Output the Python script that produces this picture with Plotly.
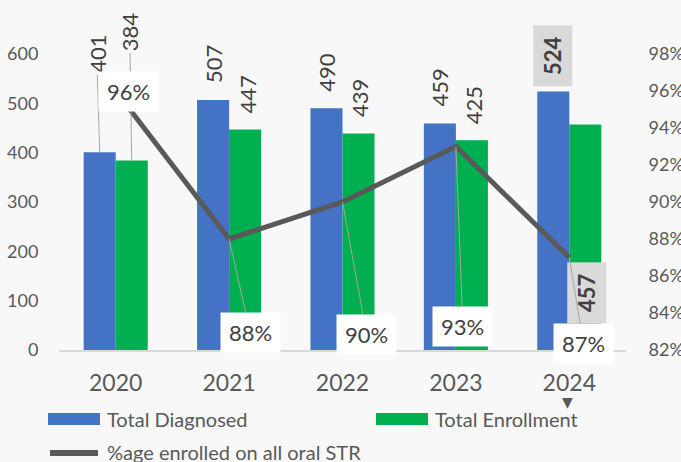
import plotly.graph_objects as go

# ---- data ----
years = ["2020", "2021", "2022", "2023", "2024"]
diagnosed = [401, 507, 490, 459, 524]
enrolled = [384, 447, 439, 425, 457]
pct_oral = [96, 88, 90, 93, 87]
series_names = ["Total Diagnosed", "Total Enrollment", "%age enrolled on all oral STR"]
left_ticks = [0, 100, 200, 300, 400, 500, 600]
right_ticks = [82, 84, 86, 88, 90, 92, 94, 96, 98]

# ---- style ----
W, H = 681, 462
L, R, T, B = 59, 55, 54, 112
FONT = "Gill Sans MT, Gill Sans, Lato, sans-serif"
BLUE, GREEN, LINE = "#4472C4", "#00B050", "#595959"
TXT, AX_TXT = "#404040", "#595959"
BG = "#f8f8f8"
PW, PH = W - L - R, H - T - B


def px_x(px):
    return (px - L) / PW


def px_y(py):
    return (H - B - py) / PH


fig = go.Figure()
fig.add_bar(x=years, y=diagnosed, name=series_names[0], marker=dict(color=BLUE, line=dict(width=0)))
fig.add_bar(x=years, y=enrolled, name=series_names[1], marker=dict(color=GREEN, line=dict(width=0)))
fig.add_scatter(x=years, y=pct_oral, yaxis="y2", mode="lines", name=series_names[2],
                line=dict(color=LINE, width=5))

ann = []
# label placement (pixel offsets from the data point): (xshift, up, style)
diag_pos = [(-3, 98, "arrow"), (1, 36, ""), (0, 36, ""), (0, 36, ""), (0, 36, "box")]
enr_pos = [(-2, 129, "arrow"), (2, 35, ""), (1, 35, ""), (1, 35, ""), (1, -168, "box")]

for vals, pos, shift in ((diagnosed, diag_pos, -16), (enrolled, enr_pos, 16)):
    for i, (v, (dx, up, style)) in enumerate(zip(vals, pos)):
        a = dict(x=i, y=v, xref="x", yref="y", text=str(v), textangle=-90,
                 font=dict(family=FONT, size=22, color=TXT))
        if style == "arrow":
            a.update(showarrow=True, arrowhead=0, arrowwidth=1, arrowcolor="#a6a6a6",
                     standoff=0, ax=dx, ay=-up, xshift=shift)
        else:
            a.update(showarrow=False, xshift=shift + dx, yshift=up)
        if style == "box":
            a.update(bgcolor="#d9d9d9", width=50, height=28, borderpad=5,
                     font=dict(family=FONT, size=22, color=TXT, weight="bold"))
        ann.append(a)

pct_pos = [(13, 0), (21, 93), (24, 132), (7, 180), (14, 86)]
for i, (v, (dx, dn)) in enumerate(zip(pct_oral, pct_pos)):
    a = dict(x=i, y=v, xref="x", yref="y2", text=f"{v}%", bgcolor="white",
             width=49, height=29, borderpad=5,
             font=dict(family=FONT, size=22, color=TXT))
    if dn == 0:
        a.update(showarrow=False, xshift=dx)
    else:
        a.update(showarrow=True, arrowhead=0, arrowwidth=1, arrowcolor="#a6a6a6",
                 standoff=0, ax=dx, ay=dn)
    ann.append(a)

# small marker under last category
ann.append(dict(x=len(years) - 1, y=px_y(402), xref="x", yref="paper", text="▼", showarrow=False,
                xshift=-2, yanchor="middle", font=dict(family="DejaVu Sans", size=14, color=LINE)))

# manual legend
shapes = [
    dict(type="rect", xref="paper", yref="paper", x0=px_x(48), x1=px_x(100),
         y0=px_y(425), y1=px_y(413), fillcolor=BLUE, line=dict(width=0)),
    dict(type="rect", xref="paper", yref="paper", x0=px_x(376), x1=px_x(428),
         y0=px_y(425), y1=px_y(413), fillcolor=GREEN, line=dict(width=0)),
    dict(type="line", xref="paper", yref="paper", x0=px_x(50), x1=px_x(98),
         y0=px_y(453), y1=px_y(453), line=dict(color=LINE, width=6)),
]
for name, xp, yp in ((series_names[0], 105, 419), (series_names[1], 433, 419), (series_names[2], 105, 452)):
    ann.append(dict(x=px_x(xp), y=px_y(yp), xref="paper", yref="paper", text=name,
                    showarrow=False, xanchor="left", yanchor="middle",
                    font=dict(family=FONT, size=20, color=AX_TXT)))

fig.update_layout(
    width=W, height=H, margin=dict(l=L, r=R, t=T, b=B, autoexpand=False),
    paper_bgcolor=BG, plot_bgcolor=BG, showlegend=False,
    barmode="group", bargap=0.435, bargroupgap=0,
    font=dict(family=FONT, color=AX_TXT),
    xaxis=dict(type="category", range=[-0.5, len(years) - 0.5], showline=True,
               linecolor="#d9d9d9", linewidth=2,
               ticks="outside", ticklen=11, tickcolor="rgba(0,0,0,0)",
               tickfont=dict(family=FONT, size=23, color=AX_TXT), showgrid=False),
    yaxis=dict(range=[0, 600], tickvals=left_ticks, showgrid=False, zeroline=False,
               ticks="outside", ticklen=16, tickcolor="rgba(0,0,0,0)",
               tickfont=dict(family=FONT, size=18, color=AX_TXT)),
    yaxis2=dict(range=[82, 98], tickvals=right_ticks, ticktext=[f"{t}%" for t in right_ticks],
                overlaying="y", side="right", showgrid=False, zeroline=False,
                ticks="outside", ticklen=18, tickcolor="rgba(0,0,0,0)",
                tickfont=dict(family=FONT, size=18, color=AX_TXT)),
    annotations=ann, shapes=shapes,
)

fig.write_html("out.html", config={"displayModeBar": False},
               post_script="document.body.style.margin='0';document.body.style.overflow='hidden';")
